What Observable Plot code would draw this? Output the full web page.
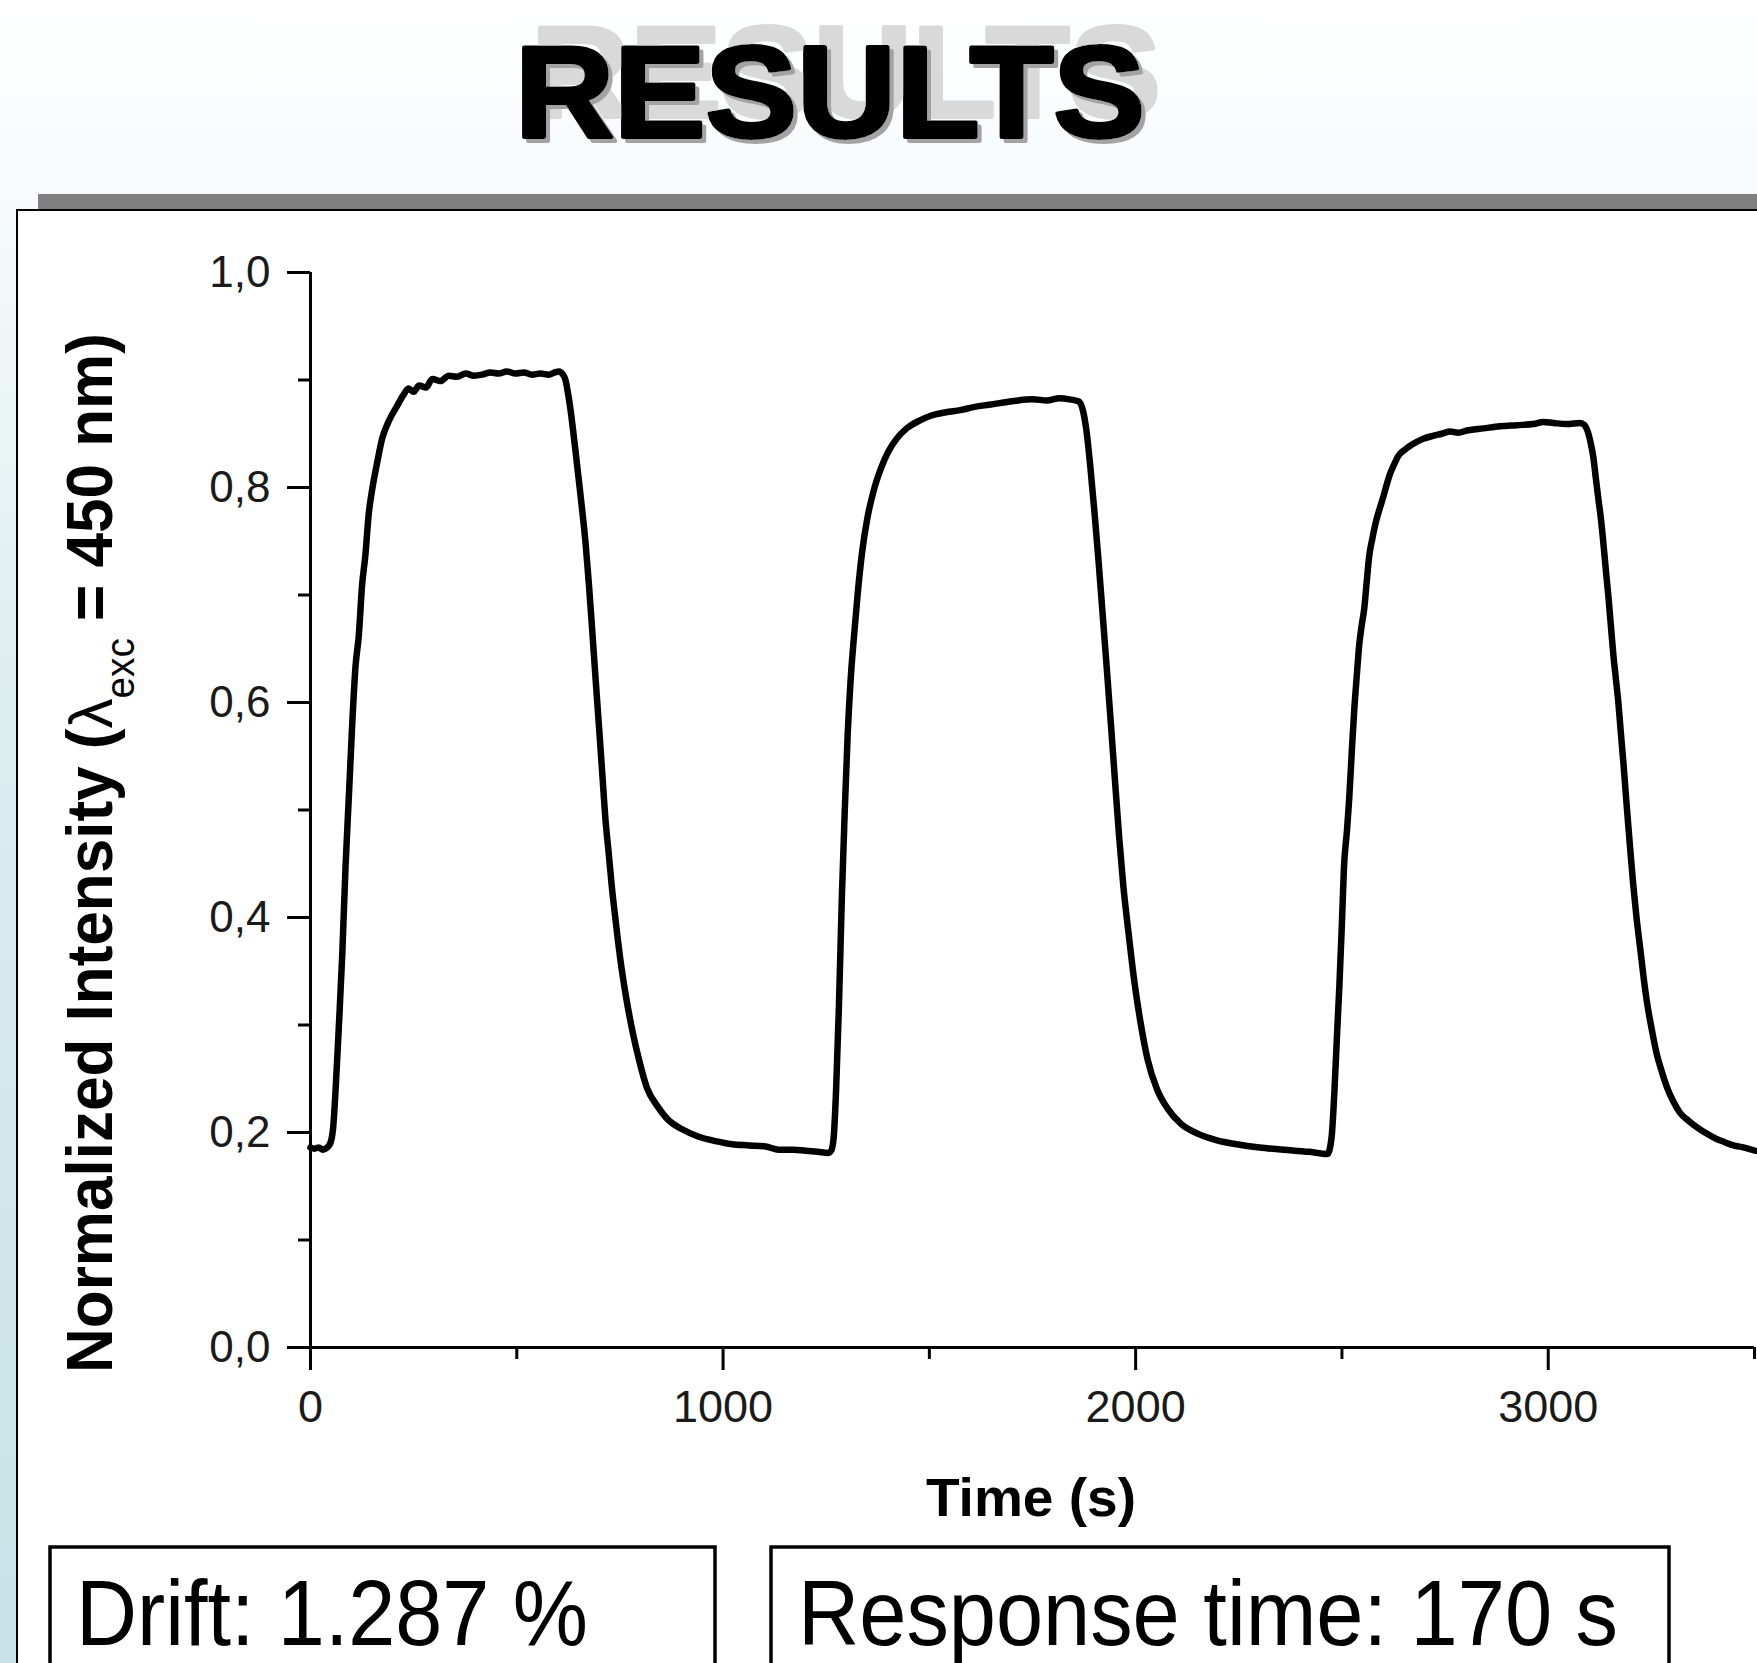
<!DOCTYPE html>
<html><head><meta charset="utf-8">
<script src="https://cdn.jsdelivr.net/npm/d3@7"></script>
<script src="https://cdn.jsdelivr.net/npm/@observablehq/plot@0.6"></script>
<style>
html,body{margin:0;padding:0;}
body{width:1757px;height:1663px;position:relative;overflow:hidden;
 background:linear-gradient(to bottom,#ffffff 0px,#f6fafb 200px,#dcedef 700px,#c6e2e6 1663px);
 font-family:"Liberation Sans",Arial,sans-serif;}
#bar{position:absolute;left:38px;top:194px;width:1719px;height:15px;background:#808080;}
#panel{position:absolute;left:16px;top:209px;width:1745px;height:1460px;background:#fff;border-left:2px solid #000;border-top:2px solid #000;}
#chart{position:absolute;left:0;top:0;}
#overlay{position:absolute;left:0;top:0;}
#chart g[aria-label="y-axis tick label"], #chart g[aria-label="x-axis tick label"]{fill:#1a1a1a;}
</style></head><body>
<div id="bar"></div><div id="panel"></div>
<div id="chart"></div>
<svg id="overlay" width="1757" height="1663" xmlns="http://www.w3.org/2000/svg">
<defs>
<filter id="ttl" filterUnits="userSpaceOnUse" x="470" y="0" width="760" height="190">
 <feFlood flood-color="#d9d9d9" result="c1"/>
 <feOffset in="SourceAlpha" dx="16" dy="-20" result="o1"/>
 <feComposite in="c1" in2="o1" operator="in" result="g1"/>
 <feFlood flood-color="#a3a3a3" result="c2"/>
 <feOffset in="SourceAlpha" dx="4" dy="4" result="o2"/>
 <feComposite in="c2" in2="o2" operator="in" result="g2"/>
 <feMerge><feMergeNode in="g1"/><feMergeNode in="g2"/><feMergeNode in="SourceGraphic"/></feMerge>
</filter>
</defs>
</svg>
<script>
// ---- data ----
const time = [
 0,10,20,30,40,48,55,61,69,77,85,93,101,109,117,125,133,141,149,162,174,190,210,225,238,250,263,280,295,315,335,355,376,396,416,436,456,476,497,517,537,557,578,592,602,612,618,624,630,642,655,667,675,683,691,699,707,715,723,731,739,751,764,780,796,816,840,869,901,941,982,1022,1063,1103,1135,1170,1200,1230,1255,
 1262,1268,1274,1281,1288,1295,1302,1309,1317,1326,1337,1350,1365,1382,1400,1420,1445,1475,1505,1540,1575,1610,1645,1680,1715,1750,1785,1815,1840,1862,1872,1880,1890,1900,1910,1920,1930,1940,1950,1960,1970,1983,1997,2012,2029,2052,2078,2110,2150,2195,2245,2300,2360,2420,2465,
 2470,2476,2482,2488,2494,2500,2505,2512,2518,2524,2530,2536,2542,2548,2554,2560,2566,2574,2583,2592,2600,2608,2616,2626,2636,2652,2670,2695,2720,2742,2762,2782,2803,2843,2883,2924,2964,2988,3013,3045,3077,3088,3095,3102,3109,3115,3121,3128,3134,3140,3146,3152,3158,3164,3170,3176,3182,3188,3194,3200,3206,3214,3223,3231,3239,3251,3263,3275,3287,3303,3320,3340,3360,3384,3408,3428,3449,3475,3502
];
const intensity = [
 0.186,0.185,0.186,0.184,0.186,0.190,0.205,0.241,0.301,0.366,0.448,0.513,0.579,0.633,0.662,0.709,0.737,0.775,0.797,0.824,0.846,0.862,0.876,0.886,0.892,0.889,0.895,0.893,0.901,0.899,0.904,0.903,0.906,0.904,0.905,0.907,0.906,0.908,0.906,0.907,0.905,0.906,0.905,0.907,0.908,0.905,0.900,0.888,0.873,0.835,0.791,0.747,0.709,0.666,0.622,0.579,0.535,0.491,0.459,0.426,0.399,0.361,0.328,0.295,0.268,0.241,0.225,0.211,0.203,0.196,0.192,0.189,0.188,0.187,0.184,0.184,0.183,0.182,0.181,
 0.183,0.195,0.240,0.320,0.420,0.500,0.570,0.620,0.660,0.700,0.740,0.772,0.797,0.817,0.833,0.845,0.855,0.862,0.867,0.870,0.872,0.875,0.877,0.879,0.881,0.882,0.881,0.883,0.882,0.880,0.872,0.855,0.820,0.778,0.732,0.682,0.632,0.580,0.527,0.475,0.430,0.385,0.340,0.302,0.268,0.240,0.222,0.208,0.199,0.193,0.189,0.186,0.184,0.182,0.180,
 0.184,0.200,0.240,0.290,0.338,0.395,0.447,0.480,0.513,0.555,0.594,0.625,0.654,0.672,0.687,0.712,0.736,0.753,0.769,0.781,0.791,0.802,0.812,0.821,0.829,0.835,0.840,0.845,0.848,0.850,0.852,0.851,0.853,0.855,0.857,0.858,0.859,0.861,0.860,0.859,0.860,0.858,0.853,0.843,0.829,0.810,0.791,0.770,0.747,0.722,0.698,0.671,0.644,0.622,0.600,0.572,0.545,0.515,0.486,0.458,0.431,0.400,0.371,0.345,0.322,0.296,0.273,0.257,0.243,0.229,0.218,0.211,0.205,0.199,0.194,0.191,0.188,0.186,0.183
];
const xMajorTicks = [0, 1000, 2000, 3000];
const xMinorTicks = [500, 1500, 2500, 3500];
const yMajorTicks = [0, 0.2, 0.4, 0.6, 0.8, 1.0];
const yMinorTicks = [0.1, 0.3, 0.5, 0.7, 0.9];
const xDomain = [0, 3500];
const yDomain = [0, 1];
const pageTitle = "RESULTS";
const xTitle = "Time (s)";
const yTitleParts = ["Normalized Intensity (", "λ", "exc", " = 450 nm)"];
const boxTexts = ["Drift: 1.287 %", "Response time: 170 s"];

// ---- chart ----
const data = time.map((t, i) => ({t, v: intensity[i]}));
const fmtY = d => d.toFixed(1).replace(".", ",");
const font = "Liberation Sans, Arial, sans-serif";
const chart = Plot.plot({
  width: 1757, height: 1663,
  marginLeft: 310, marginRight: 3, marginTop: 272, marginBottom: 316,
  style: {background: "transparent", fontFamily: font, overflow: "visible"},
  x: {domain: xDomain},
  y: {domain: yDomain},
  marks: [
    Plot.axisY({ticks: yMajorTicks, anchor: "left", tickSize: 23, tickPadding: 17, tickFormat: fmtY, fontSize: 44, strokeWidth: 3, label: null}),
    Plot.axisY({ticks: yMinorTicks, anchor: "left", tickSize: 12, fill: "none", strokeWidth: 3, label: null}),
    Plot.axisX({ticks: xMajorTicks, anchor: "bottom", tickSize: 23, tickPadding: 20, tickFormat: d => String(d), fontSize: 45, strokeWidth: 3, label: null}),
    Plot.axisX({ticks: xMinorTicks, anchor: "bottom", tickSize: 12, fill: "none", strokeWidth: 3, label: null}),
    Plot.ruleX([0], {stroke: "black", strokeWidth: 3}),
    Plot.ruleY([0], {stroke: "black", strokeWidth: 3}),
    Plot.line(data, {x: "t", y: "v", stroke: "black", strokeWidth: 6.5, curve: "monotone-x", strokeLinejoin: "round"})
  ]
});
document.getElementById("chart").appendChild(chart);

// ---- overlay texts ----
const NS = "http://www.w3.org/2000/svg";
const ov = document.getElementById("overlay");
function el(tag, attrs, parent) {
  const e = document.createElementNS(NS, tag);
  for (const k in attrs) e.setAttribute(k, attrs[k]);
  (parent || ov).appendChild(e);
  return e;
}
// title with light copy and shadow (via filter)
const tt = el("text", {x: 515, y: 137, fill: "#000", stroke: "#000", "stroke-width": 4, "stroke-linejoin": "round", "font-family": font, "font-size": 130, "font-weight": "bold", textLength: 630, lengthAdjust: "spacingAndGlyphs", filter: "url(#ttl)"});
tt.textContent = pageTitle;
// x title
const xt = el("text", {x: 1031, y: 1516, "text-anchor": "middle", "font-family": font, "font-size": 54, "font-weight": "bold", fill: "#000", textLength: 210, lengthAdjust: "spacingAndGlyphs"});
xt.textContent = xTitle;
// y title (rotated, with subscript)
const yg = el("g", {});
const yt = el("text", {x: 0, y: 0, "font-family": font, "font-size": 64, "font-weight": "bold", fill: "#000"}, yg);
const s1 = el("tspan", {}, yt); s1.textContent = yTitleParts[0];
const s2 = el("tspan", {"font-weight": "normal", "font-size": 62}, yt); s2.textContent = yTitleParts[1];
const s3 = el("tspan", {dy: 22, "font-size": 40, "font-weight": "normal"}, yt); s3.textContent = yTitleParts[2];
const s4 = el("tspan", {dy: -22}, yt); s4.textContent = yTitleParts[3];
const L = yt.getComputedTextLength();
const sc = 1040 / L;
yg.setAttribute("transform", `translate(112,1373) rotate(-90) scale(${sc},1)`);
// boxes
[[50, 665, 76, 512], [771, 898, 798, 820]].forEach(([bx, bw, tx, tl], i) => {
  el("rect", {x: bx, y: 1547, width: bw, height: 200, fill: "#fff", stroke: "#000", "stroke-width": 3.5});
  const t = el("text", {x: tx, y: 1645, "font-family": font, "font-size": 92, fill: "#000", textLength: tl, lengthAdjust: "spacingAndGlyphs"});
  t.textContent = boxTexts[i];
});
</script>
</body></html>
